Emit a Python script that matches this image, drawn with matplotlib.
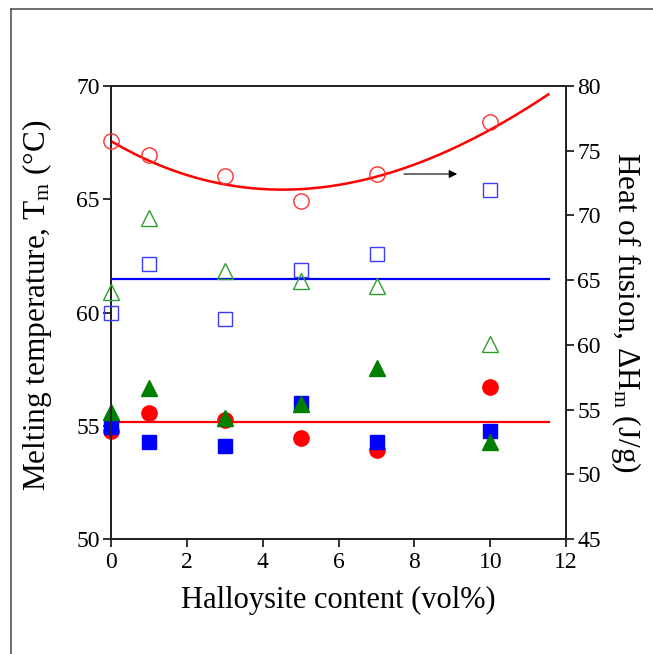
import numpy as np
import matplotlib
matplotlib.use('Agg')
import matplotlib.pyplot as plt
from matplotlib.lines import Line2D

plt.rcParams['font.family'] = ['Liberation Serif', 'DejaVu Serif']
plt.rcParams['mathtext.fontset'] = 'custom'
plt.rcParams['mathtext.rm'] = 'Liberation Serif'

# halloysite content (vol%)
hnt = [0, 1, 3, 5, 7, 10]

# melting temperature (left axis, filled)
tm_circle = [54.77, 55.58, 55.25, 54.44, 53.92, 56.70]
tm_triangle = [55.62, 56.65, 55.33, 55.96, 57.56, 54.30]
tm_square = [54.93, 54.27, 54.10, 55.99, 54.27, 54.77]
tm_level = 55.15

# heat of fusion (right axis, open)
hf_circle = [75.75, 74.67, 73.04, 71.14, 73.20, 77.24]
hf_triangle = [64.10, 69.82, 65.70, 64.93, 64.54, 60.04]
hf_square = [62.45, 66.22, 62.00, 65.78, 67.00, 71.96]
hf_level = 65.1

# trend curve through the open circles
curve_x = [0, 1, 3, 5, 7, 10, 11.53]
curve_y = [75.6, 74.41, 72.48, 71.89, 72.9, 76.86, 79.23]

line_end = 11.55

fig = plt.figure(figsize=(6.53, 6.54), dpi=100)
ax = fig.add_axes([0.170, 0.1758, 0.697, 0.6927])
ax2 = ax.twinx()

RED = '#ff0000'
GREEN = '#007f00'
BLUE = '#0000ff'
GREEN_O = '#2e9e2e'
BLUE_O = '#3c3cff'
RED_O = '#ff3030'

# filled markers, left axis
ax.plot([0, line_end], [tm_level, tm_level], color=RED, lw=1.6, zorder=2)
ax.plot(hnt, tm_circle, 'o', color=RED, ms=11, mec=RED, ls='none', zorder=3, clip_on=False)
ax.plot(hnt, tm_square, 's', color=BLUE, ms=9.5, mec=BLUE, ls='none', zorder=4, clip_on=False)
ax.plot(hnt, tm_triangle, '^', color=GREEN, ms=11, mec=GREEN, ls='none', zorder=5, clip_on=False)

# open markers, right axis
coef = np.polyfit(curve_x, curve_y, 3)
xf = np.linspace(curve_x[0], curve_x[-1], 200)
ax2.plot(xf, np.polyval(coef, xf), color=RED, lw=1.8, zorder=2)
ax2.plot([0, line_end], [hf_level, hf_level], color=BLUE, lw=1.6, zorder=2)
ax2.plot(hnt, hf_circle, 'o', mfc='none', mec=RED_O, mew=1.0, ms=11, ls='none', zorder=3, clip_on=False)
ax2.plot(hnt, hf_square, 's', mfc='none', mec=BLUE_O, mew=1.0, ms=9.5, ls='none', zorder=3, clip_on=False)
ax2.plot(hnt, hf_triangle, '^', mfc='none', mec=GREEN_O, mew=1.0, ms=11, ls='none', zorder=3, clip_on=False)

ax2.annotate('', xy=(9.2, 73.2), xytext=(7.65, 73.2),
             arrowprops=dict(arrowstyle='-|>', color='black', lw=0.8, mutation_scale=12))

ax.set_xlim(0, 12)
ax.set_ylim(50, 70)
ax2.set_ylim(45, 80)
ax.set_xticks(range(0, 13, 2))
ax.set_yticks(range(50, 71, 5))
ax2.set_yticks(range(45, 81, 5))

for a in (ax, ax2):
    for s in a.spines.values():
        s.set_linewidth(1.3)
        s.set_color('#222222')
    a.tick_params(direction='out', length=6, width=1.3, labelsize=17, color='#222222', pad=2)
ax.tick_params(axis='x', pad=3)

ax.set_xlabel('Halloysite content (vol%)', fontsize=22, labelpad=10)
ax.set_ylabel(r'Melting temperature, T$\mathregular{_m}$ ($\mathregular{\degree}$C)', fontsize=22.5, labelpad=10)
ax.yaxis.set_label_coords(-0.125, 0.515)
ax2.set_ylabel(r'Heat of fusion, $\mathregular{\Delta}$H$\mathregular{_m}$ (J/g)', fontsize=22.5,
               rotation=270, labelpad=30)

# outer frame (top and left visible)
fig.add_artist(Line2D([11 / 653, 1], [1 - 9 / 654, 1 - 9 / 654], color='#555555', lw=1.2))
fig.add_artist(Line2D([11 / 653, 11 / 653], [0, 1 - 9 / 654], color='#555555', lw=1.2))

fig.savefig('out.png', dpi=100)
